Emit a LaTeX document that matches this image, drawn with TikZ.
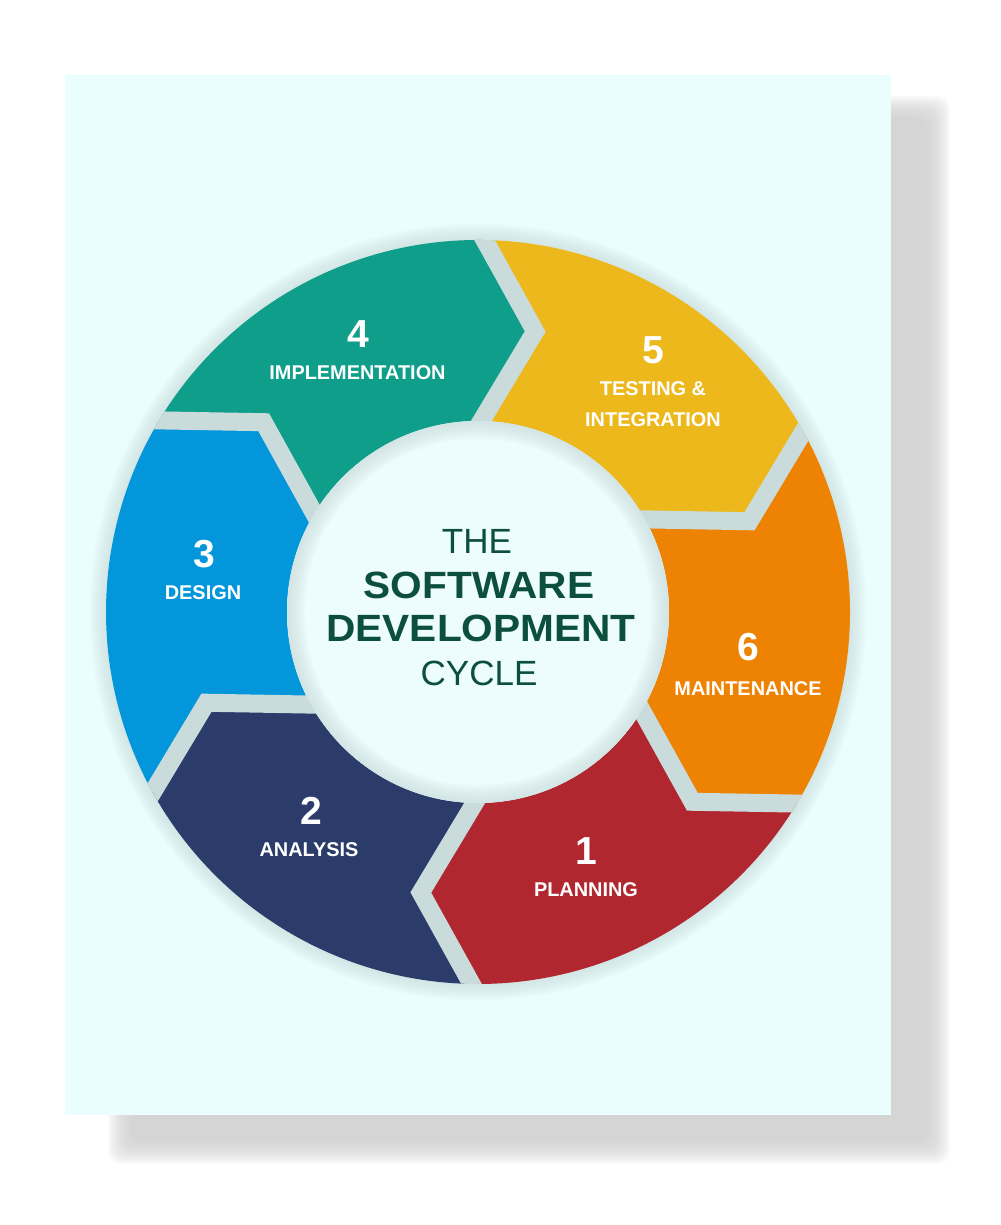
\documentclass[tikz,border=0pt]{standalone}
\usepackage{fontspec}
\usepackage{graphicx}
\setmainfont{Liberation Sans}
\usetikzlibrary{calc}
\definecolor{shadowgray}{HTML}{D2D2D2}
\definecolor{panelbg}{HTML}{EBFEFE}
\definecolor{gapcol}{HTML}{C9DCDB}
\definecolor{innercol}{HTML}{EDFDFD}
\definecolor{cteal}{HTML}{0E9E89}
\definecolor{cyellow}{HTML}{EDB81B}
\definecolor{corange}{HTML}{EE8203}
\definecolor{cred}{HTML}{B0272F}
\definecolor{cnavy}{HTML}{2B3C6B}
\definecolor{cblue}{HTML}{0396DB}
\definecolor{titlecol}{HTML}{0C4F40}
\newcommand\ringseg[2]{%
  \fill[#1] (#2:372) arc[start angle=#2, end angle=#2-60, radius=372]
    -- (#2-70.52:286.3) -- (#2-60:191)
    arc[start angle=#2-60, end angle=#2, radius=191]
    -- (#2-10.52:286.3) -- cycle;}
\tikzset{
  num/.style={text=white, font=\fontsize{11.1}{12}\selectfont\bfseries, inner sep=0pt, anchor=base},
  lab/.style={text=white, font=\fontsize{5.66}{6.5}\selectfont\bfseries, inner sep=0pt, anchor=base},
  ttl/.style={text=titlecol, inner sep=0pt, anchor=base}
}
\begin{document}
\begin{tikzpicture}[x=0.01cm,y=0.01cm]
\useasboundingbox (0,0) rectangle (1000,1225);
\fill[white] (0,0) rectangle (1000,1225);
% blurred panel shadow
\foreach \k in {0,...,23}{
  \pgfmathsetmacro\shoff{12-\k}
  \fill[shadowgray, opacity=0.066, rounded corners=0.12cm] ({120-(\shoff)},{73-(\shoff)}) rectangle ({938+(\shoff)},{1117+(\shoff)});
}
% panel
\fill[panelbg] (65,110) rectangle (891,1150);
% ring
\begin{scope}[shift={(478,613)}]
  \foreach \k in {1,...,8}{
    \fill[gapcol, opacity=0.1] (0,0) circle ({372+2*\k});
  }
  \ringseg{cteal}{149}
  \ringseg{cyellow}{89}
  \ringseg{corange}{29}
  \ringseg{cred}{-31}
  \ringseg{cnavy}{-91}
  \ringseg{cblue}{-151}
  \begin{scope}
    \clip (0,0) circle (372);
    \foreach \b in {89,29,-31,-91,-151,149}{
      \draw[gapcol, line width=0.18cm, line join=miter]
        ($(\b-10.52:286.3)!1.6!(\b:372)$) -- (\b-10.52:286.3) -- ($(\b-10.52:286.3)!1.6!(\b:191)$);
    }
  \end{scope}
  \fill[innercol] (0,0) circle (191);
  \foreach \k in {1,...,8}{
    \fill[gapcol, opacity=0.12, even odd rule] (0,0) circle (191) (0,0) circle ({191-2.2*\k});
  }
\end{scope}
% labels
\node[num] (n4) at (358,877) {4};
\node[lab] (l4) at (357.5,845) {IMPLEMENTATION};
\node[num] (n5) at (653,861) {5};
\node[lab] (l5a) at (653,829) {TESTING \&};
\node[lab] (l5b) at (653,798) {INTEGRATION};
\node[num] (n3) at (204,657) {3};
\node[lab] (l3) at (203,625) {DESIGN};
\node[num] (n6) at (748,564) {6};
\node[lab] (l6) at (748,529) {MAINTENANCE};
\node[num] (n2) at (311,400) {2};
\node[lab] (l2) at (309,368) {ANALYSIS};
\node[num] (n1) at (586,360) {1};
\node[lab] (l1) at (586,328) {PLANNING};
% title
\node[ttl, font=\fontsize{9.96}{11}\selectfont] (tthe) at (477,671) {THE};
\node[ttl, font=\fontsize{10.8}{12}\selectfont\bfseries] (tsoft) at (479,626) {\scalebox{1.07}[1]{SOFTWARE}};
\node[ttl, font=\fontsize{10.8}{12}\selectfont\bfseries] (tdev) at (481,583) {\scalebox{1.07}[1]{DEVELOPMENT}};
\node[ttl, font=\fontsize{9.96}{11}\selectfont] (tcyc) at (479,539) {CYCLE};
\end{tikzpicture}
\end{document}
